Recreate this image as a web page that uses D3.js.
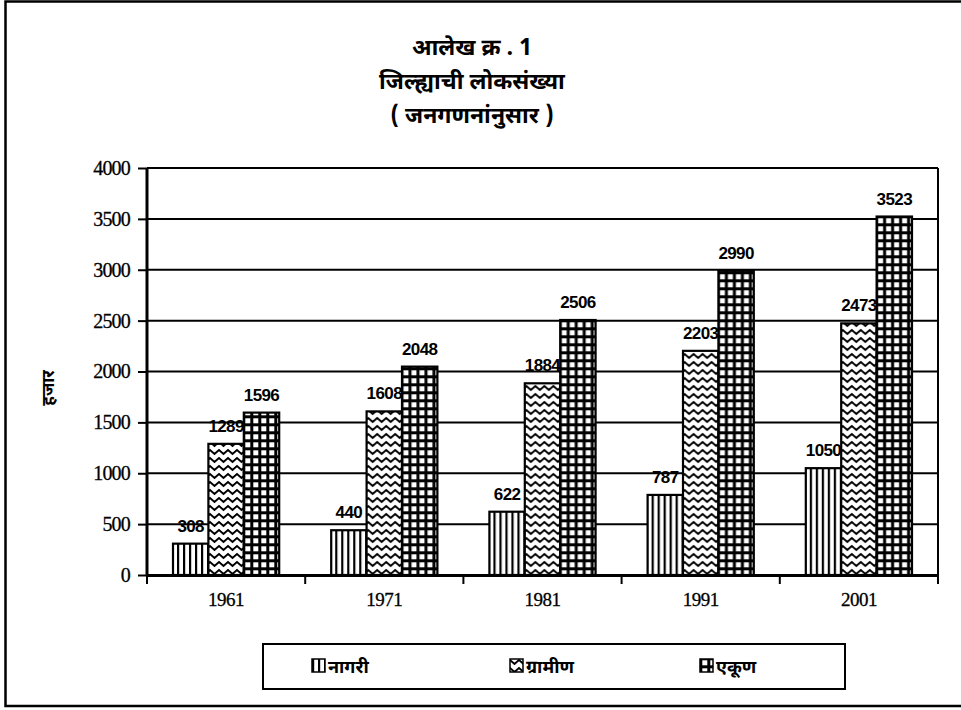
<!DOCTYPE html>
<html>
<head>
<meta charset="utf-8">
<script src="https://cdn.jsdelivr.net/npm/d3@7"></script>
<style>
  body { margin: 0; background: #fff; }
  svg { display: block; }
</style>
</head>
<body>
<script>
const years = ["1961", "1971", "1981", "1991", "2001"];
const seriesNames = ["नागरी", "ग्रामीण", "एकूण"];
const nagari = [308, 440, 622, 787, 1050];
const gramin = [1289, 1608, 1884, 2203, 2473];
const ekun = [1596, 2048, 2506, 2990, 3523];
const yTicks = [0, 500, 1000, 1500, 2000, 2500, 3000, 3500, 4000];
const titleLines = ["आलेख क्र . 1", "जिल्ह्याची लोकसंख्या", "( जनगणनांनुसार )"];
const yLabel = "हजार";

const seriesValues = [nagari, gramin, ekun];
const patternIds = ["pVert", "pZig", "pGrid"];

const W = 961, H = 710;
const plot = { left: 147, right: 938, top: 168, bottom: 575 };
const devFont = "'Noto Sans Devanagari', 'Noto Sans', 'Lohit Devanagari', sans-serif";

const svg = d3.select("body").append("svg").attr("width", W).attr("height", H);
const defs = svg.append("defs");

// vertical stripes
const p1 = defs.append("pattern").attr("id", "pVert").attr("patternUnits", "userSpaceOnUse")
  .attr("width", 6).attr("height", 6);
p1.append("rect").attr("width", 6).attr("height", 6).attr("fill", "#fff");
p1.append("rect").attr("x", 0).attr("width", 2.2).attr("height", 6).attr("fill", "#000");

// zigzag
const p2 = defs.append("pattern").attr("id", "pZig").attr("patternUnits", "userSpaceOnUse")
  .attr("width", 9).attr("height", 8);
p2.append("rect").attr("width", 9).attr("height", 8).attr("fill", "#fff");
p2.append("path").attr("d", "M-2.25,5 L0,2 L4.5,6 L9,2 L11.25,5")
  .attr("fill", "none").attr("stroke", "#000").attr("stroke-width", 2);

// grid
const p3 = defs.append("pattern").attr("id", "pGrid").attr("patternUnits", "userSpaceOnUse")
  .attr("width", 8).attr("height", 8);
p3.append("rect").attr("width", 8).attr("height", 8).attr("fill", "#000");
p3.append("rect").attr("x", 2.3).attr("y", 2.3).attr("width", 5).attr("height", 5).attr("fill", "#fff");

// outer frame
svg.append("path").attr("d", `M${W + 5},1.5 L5.5,1.5 L5.5,706 L${W + 5},706`)
  .attr("fill", "none").attr("stroke", "#000").attr("stroke-width", 2.5);

// title
svg.append("g").selectAll("text").data(titleLines).join("text")
  .attr("x", 472).attr("y", (d, i) => 55 + i * 34)
  .attr("text-anchor", "middle")
  .attr("font-family", devFont).attr("font-weight", "bold").attr("font-size", 23)
  .text(d => d);

const x0 = d3.scaleBand().domain(years).range([plot.left, plot.right]).padding(0);
const x1 = d3.scaleBand().domain(seriesNames).range([26, x0.bandwidth() - 26]).padding(0);
const y = d3.scaleLinear().domain([0, 4000]).range([plot.bottom, plot.top]);

// gridlines
svg.append("g").selectAll("line").data(yTicks.filter(t => t > 0)).join("line")
  .attr("x1", plot.left).attr("x2", plot.right)
  .attr("y1", d => y(d)).attr("y2", d => y(d))
  .attr("stroke", "#000").attr("stroke-width", 2);
// right border
svg.append("line").attr("x1", plot.right).attr("x2", plot.right)
  .attr("y1", plot.top).attr("y2", plot.bottom).attr("stroke", "#000").attr("stroke-width", 2);

// bars
const groups = svg.append("g").selectAll("g").data(years).join("g")
  .attr("transform", d => `translate(${x0(d)},0)`);
groups.selectAll("rect").data((d, i) => seriesNames.map((s, k) => ({ s, k, v: seriesValues[k][i] })))
  .join("rect")
  .attr("x", d => x1(d.s)).attr("width", x1.bandwidth())
  .attr("y", d => y(d.v)).attr("height", d => y(0) - y(d.v))
  .attr("fill", d => `url(#${patternIds[d.k]})`)
  .attr("stroke", "#000").attr("stroke-width", 2.2);

// labels
groups.selectAll("text").data((d, i) => seriesNames.map((s, k) => ({ s, k, v: seriesValues[k][i] })))
  .join("text")
  .attr("x", d => x1(d.s) + x1.bandwidth() / 2)
  .attr("y", d => y(d.v) - 12)
  .attr("text-anchor", "middle")
  .attr("font-family", "'Liberation Sans', Arial, sans-serif").attr("font-weight", "bold")
  .attr("font-size", 17).attr("letter-spacing", -0.6)
  .text(d => d.v);

// y axis
const yAxis = svg.append("g").attr("transform", `translate(${plot.left},0)`)
  .call(d3.axisLeft(y).tickValues(yTicks).tickSize(9).tickPadding(8).tickFormat(d3.format("d")));
yAxis.select(".domain").attr("stroke", "#000").attr("stroke-width", 3).attr("d", `M0,${plot.top}V${plot.bottom}`);
yAxis.selectAll(".tick line").attr("stroke", "#000").attr("stroke-width", 2);
yAxis.selectAll(".tick text").attr("font-family", "'Liberation Serif', 'Times New Roman', serif")
  .attr("font-size", 20).attr("fill", "#000").attr("letter-spacing", -0.8)
  .attr("stroke", "#000").attr("stroke-width", 0.3);

// x axis
const xAxis = svg.append("g").attr("transform", `translate(0,${plot.bottom})`)
  .call(d3.axisBottom(x0).tickSize(0).tickPadding(18));
xAxis.select(".domain").attr("stroke", "#000").attr("stroke-width", 3);
xAxis.selectAll(".tick text").attr("font-family", "'Liberation Serif', 'Times New Roman', serif")
  .attr("font-size", 19).attr("fill", "#000").attr("letter-spacing", -0.5)
  .attr("stroke", "#000").attr("stroke-width", 0.3);
svg.append("g").selectAll("line").data(d3.range(years.length + 1)).join("line")
  .attr("x1", i => plot.left + i * x0.bandwidth()).attr("x2", i => plot.left + i * x0.bandwidth())
  .attr("y1", plot.bottom).attr("y2", plot.bottom + 9)
  .attr("stroke", "#000").attr("stroke-width", 2);

// y label
svg.append("text").attr("transform", "translate(54,388) rotate(-90)")
  .attr("text-anchor", "middle")
  .attr("font-family", devFont).attr("font-weight", "bold").attr("font-size", 17)
  .text(yLabel);

// legend
const leg = svg.append("g");
leg.append("rect").attr("x", 263).attr("y", 644).attr("width", 582).attr("height", 45)
  .attr("fill", "#fff").attr("stroke", "#000").attr("stroke-width", 2);
const legX = [312, 510, 700];
const li = leg.selectAll("g.item").data(seriesNames).join("g").attr("class", "item")
  .attr("transform", (d, i) => `translate(${legX[i]},666)`);
li.append("rect").attr("x", 0).attr("y", -7).attr("width", 13).attr("height", 13)
  .attr("fill", (d, i) => `url(#${patternIds[i]})`).attr("stroke", "#000").attr("stroke-width", 1.5);
li.append("text").attr("x", 16).attr("y", 7)
  .attr("font-family", devFont).attr("font-weight", "bold").attr("font-size", 18)
  .text(d => d);
</script>
</body>
</html>
